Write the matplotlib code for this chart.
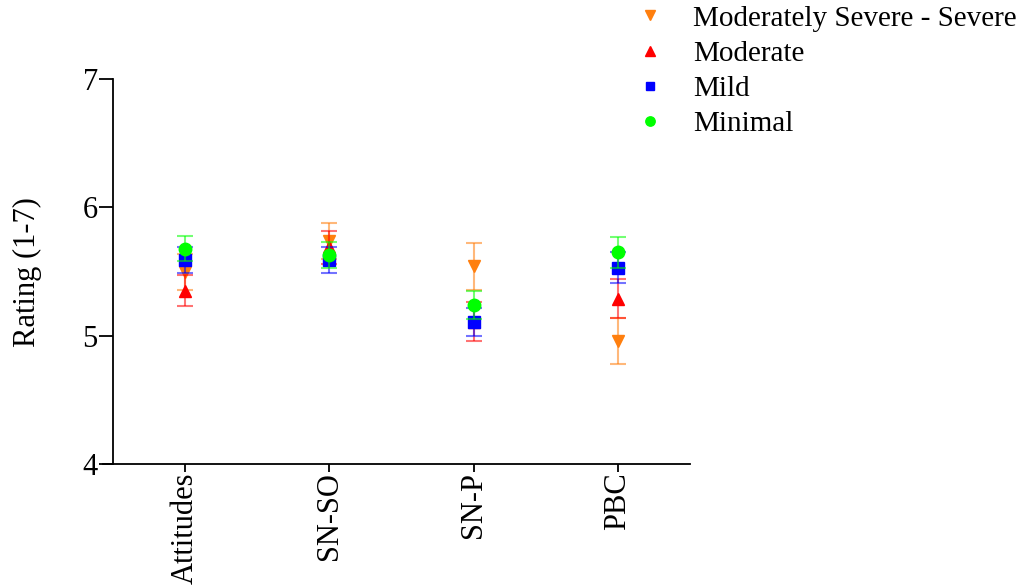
import matplotlib.pyplot as plt

plt.rcParams['font.family'] = ['Liberation Serif', 'DejaVu Serif']

# Daten
kategorien = ['Attitudes', 'SN-SO', 'SN-P', 'PBC']
gruppen = ['Moderately Severe - Severe', 'Moderate', 'Mild', 'Minimal']
mittel = {
    'Moderately Severe - Severe': [5.50, 5.74, 5.54, 4.96],
    'Moderate': [5.35, 5.69, 5.11, 5.29],
    'Mild': [5.59, 5.59, 5.11, 5.53],
    'Minimal': [5.68, 5.63, 5.24, 5.65],
}
fehler = {
    'Moderately Severe - Severe': [0.14, 0.14, 0.18, 0.18],
    'Moderate': [0.12, 0.13, 0.15, 0.15],
    'Mild': [0.10, 0.10, 0.11, 0.12],
    'Minimal': [0.10, 0.10, 0.11, 0.12],
}
farben = ['#ff7f0e', '#ff0000', '#0000ff', '#00ff00']
marker = ['v', '^', 's', 'o']
groessen = [9, 9, 8, 9]

fig = plt.figure(figsize=(10.26, 5.86), dpi=100)
# linke Kante etwas vor der y-Achse, damit die x-Achse links übersteht
ax = fig.add_axes([0.1004, 0.208, 0.5721, 0.657])

x = list(range(len(kategorien)))
for g, f, m, s in zip(gruppen, farben, marker, groessen):
    ax.errorbar(x, mittel[g], yerr=fehler[g], fmt='none', ecolor=f, alpha=0.55,
                elinewidth=1.5, capsize=6, capthick=1.5)
    ax.plot(x, mittel[g], linestyle='none', marker=m, color=f, markersize=s,
            label=g)

ax.set_xlim(-0.57, 3.5)
ax.set_ylim(4, 7)
ax.spines['left'].set_position(('data', -0.5))
ax.set_yticks([4, 5, 6, 7])
ax.set_xticks(x)
ax.set_xticklabels(kategorien, rotation=90, fontsize=22)
ax.tick_params(axis='y', labelsize=22, length=10, width=1.3, pad=1)
ax.tick_params(axis='x', length=6, width=1.3, pad=0)
ax.set_ylabel('Rating (1-7)', fontsize=22)
ax.yaxis.set_label_coords(-0.104, 0.5)
for seite in ['top', 'right']:
    ax.spines[seite].set_visible(False)
for seite in ['left', 'bottom']:
    ax.spines[seite].set_linewidth(1.3)

ax.legend(loc='upper left', bbox_to_anchor=(0.907, 1.192), frameon=False,
          fontsize=21, borderpad=0, borderaxespad=0, handlelength=1.0,
          handletextpad=0.97, labelspacing=0.30, markerscale=0.75)

fig.savefig('out.png', dpi=100)
